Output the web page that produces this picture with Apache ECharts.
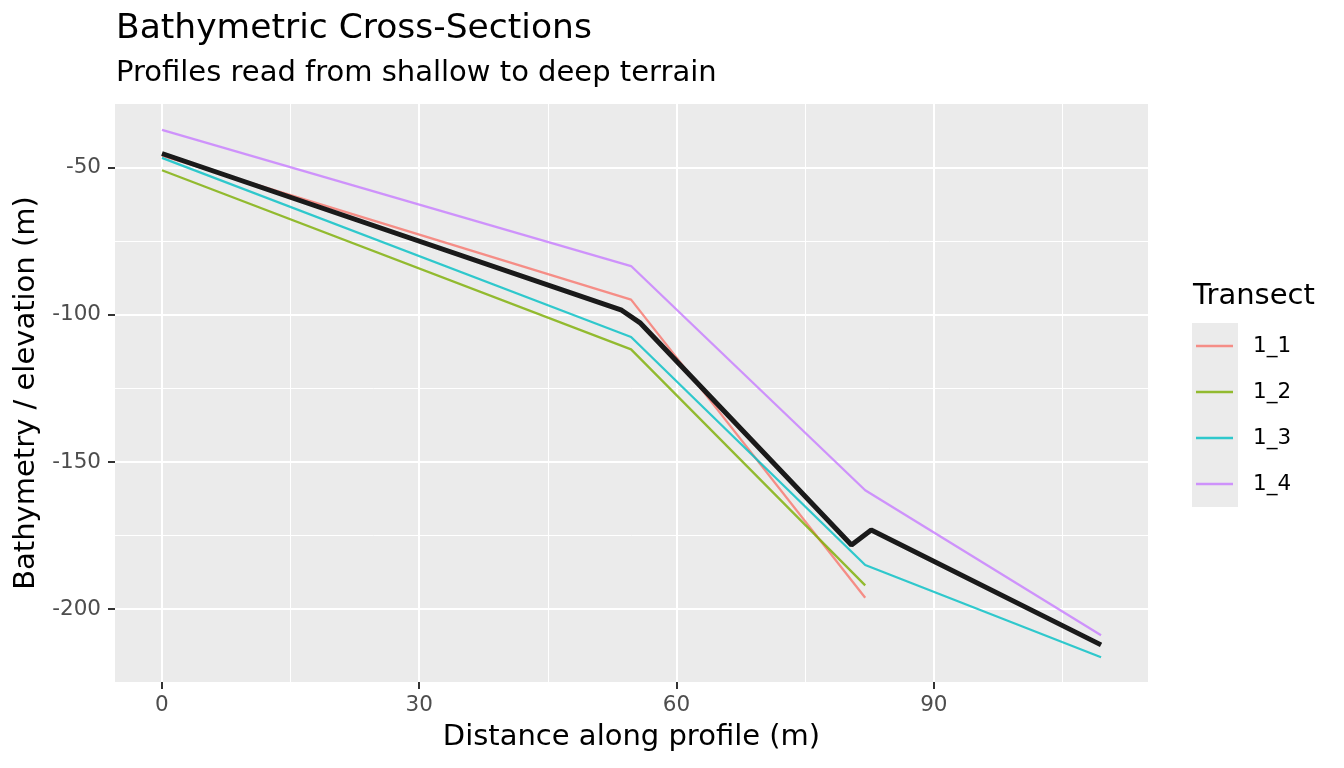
<!DOCTYPE html>
<html lang="en">
<head>
    <meta charset="UTF-8">
    <title>Bathymetric Cross-Sections</title>
    <script src="https://cdn.jsdelivr.net/npm/echarts@6/dist/echarts.min.js"></script>
    <style>
        html, body {
            margin: 0;
            padding: 0;
            background-color: #ffffff;
        }
        #chart {
            width: 1344px;
            height: 768px;
        }
    </style>
</head>
<body>
<div id="chart"></div>
<script>
    // transect profiles: distance (m) and elevation (m)
    var dist11 = [0, 54.7, 82.0];
    var elev11 = [-46.0, -94.9, -196.1];
    var dist12 = [0, 54.7, 82.0];
    var elev12 = [-51.0, -111.8, -191.9];
    var dist13 = [0, 54.7, 82.0, 109.5];
    var elev13 = [-46.8, -107.6, -185.0, -216.3];
    var dist14 = [0, 54.7, 82.0, 109.5];
    var elev14 = [-37.3, -83.5, -159.6, -208.8];
    // mean profile (thick black line)
    var distMean = [0, 53.6, 55.8, 80.4, 82.7, 109.5];
    var elevMean = [-45.3, -98.5, -102.9, -178.2, -173.1, -212.1];

    var transectNames = ['1_1', '1_2', '1_3', '1_4'];
    var transectColors = ['#F8766D', '#7CAE00', '#00BFC4', '#C77CFF'];

    // axis breaks
    var xMajor = [0, 30, 60, 90];
    var xMinor = [15, 45, 75, 105];
    var yMajor = [-200, -150, -100, -50];
    var yMinor = [-175, -125, -75];

    function pairs(xs, ys) {
        return xs.map(function (x, i) { return [x, ys[i]]; });
    }

    var transects = [
        pairs(dist11, elev11),
        pairs(dist12, elev12),
        pairs(dist13, elev13),
        pairs(dist14, elev14)
    ];

    var font = 'DejaVu Sans';
    var xRange = [-5.475, 114.975];
    var yRange = [-224.7, -28.5];

    // panel grid lines, drawn with markLine so they sit on the breaks
    var gridLines = [];
    xMinor.forEach(function (v) { gridLines.push({ xAxis: v, lineStyle: { color: '#ffffff', width: 1, type: 'solid' } }); });
    yMinor.forEach(function (v) { gridLines.push({ yAxis: v, lineStyle: { color: '#ffffff', width: 1, type: 'solid' } }); });
    xMajor.forEach(function (v) { gridLines.push({ xAxis: v, lineStyle: { color: '#ffffff', width: 2, type: 'solid' } }); });
    yMajor.forEach(function (v) { gridLines.push({ yAxis: v, lineStyle: { color: '#ffffff', width: 2, type: 'solid' } }); });

    var series = [{
        name: 'grid',
        type: 'line',
        data: [],
        silent: true,
        z: 1,
        markLine: {
            silent: true,
            z: 1,
            animation: false,
            symbol: ['none', 'none'],
            label: { show: false },
            emphasis: { disabled: true },
            data: gridLines
        }
    }];

    transects.forEach(function (data, i) {
        series.push({
            name: transectNames[i],
            type: 'line',
            data: data,
            showSymbol: false,
            silent: true,
            color: transectColors[i],
            lineStyle: { width: 2.3, opacity: 0.8 },
            itemStyle: { opacity: 0.8 },
            z: 3
        });
    });
    series.push({
        name: 'mean',
        type: 'line',
        data: pairs(distMean, elevMean),
        showSymbol: false,
        silent: true,
        color: '#1a1a1a',
        lineStyle: { width: 5 },
        z: 4
    });

    var option = {
        animation: false,
        textStyle: { fontFamily: font },
        title: [
            {
                text: 'Bathymetric Cross-Sections',
                left: 111,
                top: 7,
                textStyle: { fontFamily: font, fontSize: 34.5, fontWeight: 'normal', color: '#000000' }
            },
            {
                text: 'Profiles read from shallow to deep terrain',
                left: 111,
                top: 54,
                textStyle: { fontFamily: font, fontSize: 29, fontWeight: 'normal', color: '#000000' }
            },
            {
                text: 'Transect',
                left: 1188,
                top: 277,
                textStyle: { fontFamily: font, fontSize: 29, fontWeight: 'normal', color: '#000000' }
            }
        ],
        grid: {
            left: 115,
            right: 196,
            top: 104,
            bottom: 86,
            show: true,
            backgroundColor: '#EBEBEB',
            borderWidth: 0
        },
        graphic: [
            {
                type: 'rect',
                left: 1192,
                top: 323,
                shape: { width: 46, height: 184 },
                style: { fill: '#EBEBEB' },
                z: -1
            }
        ],
        legend: {
            data: transectNames,
            orient: 'vertical',
            left: 1191,
            top: 329,
            icon: 'rect',
            itemWidth: 37,
            itemHeight: 2.3,
            itemGap: 22,
            selectedMode: false,
            textStyle: {
                fontFamily: font,
                fontSize: 21.5,
                color: '#000000',
                lineHeight: 24,
                padding: [0, 0, 0, 15]
            }
        },
        xAxis: {
            type: 'value',
            min: xRange[0],
            max: xRange[1],
            name: 'Distance along profile (m)',
            nameLocation: 'middle',
            nameGap: 41,
            nameTextStyle: { fontFamily: font, fontSize: 29, color: '#000000' },
            axisLine: { show: false, onZero: false },
            axisTick: {
                customValues: xMajor,
                length: 7,
                lineStyle: { color: '#333333', width: 2 }
            },
            axisLabel: {
                customValues: xMajor,
                margin: 12,
                fontFamily: font,
                fontSize: 21.5,
                color: '#4d4d4d'
            },
            splitLine: { show: false }
        },
        yAxis: {
            type: 'value',
            min: yRange[0],
            max: yRange[1],
            name: 'Bathymetry / elevation (m)',
            nameLocation: 'middle',
            nameRotate: 90,
            nameGap: 72,
            nameTextStyle: { fontFamily: font, fontSize: 29, color: '#000000' },
            axisLine: { show: false, onZero: false },
            axisTick: {
                customValues: yMajor,
                length: 7,
                lineStyle: { color: '#333333', width: 2 }
            },
            axisLabel: {
                customValues: yMajor,
                margin: 14,
                fontFamily: font,
                fontSize: 21.5,
                color: '#4d4d4d'
            },
            splitLine: { show: false }
        },
        series: series
    };

    var chart = echarts.init(document.getElementById('chart'));
    chart.setOption(option);
</script>
</body>
</html>
